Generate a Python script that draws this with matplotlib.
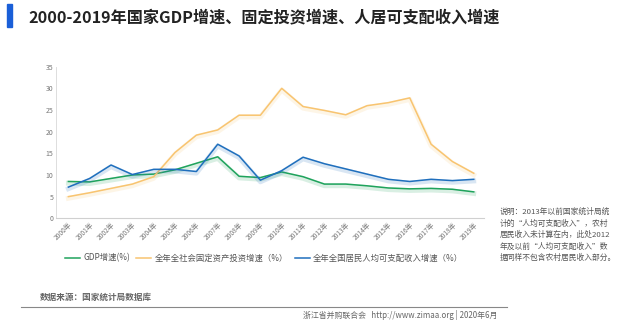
import matplotlib
matplotlib.use("Agg")
import matplotlib.pyplot as plt
import matplotlib.patheffects as pe
from matplotlib.patches import Rectangle
from matplotlib.lines import Line2D

plt.rcParams['font.family'] = ['Noto Sans CJK SC', 'DejaVu Sans']

years = [f"{y}年" for y in range(2000, 2020)]
gdp = [8.5, 8.4, 9.2, 10.0, 10.2, 11.2, 12.7, 14.2, 9.7, 9.4,
       10.7, 9.6, 7.9, 7.9, 7.5, 7.0, 6.8, 6.9, 6.7, 6.1]
invest = [5.0, 5.9, 6.9, 7.9, 9.6, 15.2, 19.2, 20.4, 23.8, 23.8,
          30.0, 25.8, 24.9, 23.9, 26.0, 26.7, 27.8, 17.1, 13.1, 10.4]
income = [7.2, 9.2, 12.3, 10.1, 11.3, 11.3, 10.8, 17.1, 14.4, 8.8,
          11.0, 14.1, 12.6, 11.4, 10.2, 9.0, 8.5, 9.0, 8.7, 9.0]
series_names = ["GDP增速(%)", "全年全社会固定资产投资增速（%）", "全年全国居民人均可支配收入增速（%）"]
colors = ["#1fa35c", "#f8c470", "#1f6fbd"]
yticks = [0, 5, 10, 15, 20, 25, 30, 35]

fig = plt.figure(figsize=(6.4, 3.31), dpi=100)
fig.patch.set_facecolor("white")

# title
fig.patches.append(Rectangle((7 / 640, 1 - 27 / 331), 5 / 640, 23 / 331,
                             transform=fig.transFigure, color="#1a5fd8"))
fig.text(28 / 640, 1 - 17 / 331, "2000-2019年国家GDP增速、固定投资增速、人居可支配收入增速",
         fontsize=11.6, fontweight="bold", color="#222222", va="center", ha="left")

ax = fig.add_axes([56 / 640, 1 - 218.3 / 331, 428 / 640, 151.6 / 331])
x = list(range(len(years)))
for vals, c, name in zip([gdp, invest, income], colors, series_names):
    ax.plot(x, vals, color=c, lw=1.1, label=name,
            path_effects=[pe.SimpleLineShadow(offset=(0, -1.2), shadow_color=c, alpha=0.17, linewidth=3.5),
                          pe.Normal()])

ax.set_xlim(-0.58, 19.48)
ax.set_ylim(0, 35)
ax.set_yticks(yticks)
ax.set_yticklabels([str(v) for v in yticks], fontsize=5, color="#777777")
ax.set_xticks(x)
ax.set_xticklabels(years, fontsize=4.8, color="#777777", rotation=45, ha="right", rotation_mode="anchor")
for s in ["top", "right"]:
    ax.spines[s].set_visible(False)
ax.spines["left"].set_color("#d8d8d8")
ax.spines["bottom"].set_color("#d0d0d0")
ax.spines["left"].set_linewidth(0.6)
ax.spines["bottom"].set_linewidth(0.8)
ax.tick_params(axis="both", length=0, pad=2)

handles = [Line2D([0], [0], color=c, lw=1.1) for c in colors]
fig.legend(handles, series_names, loc="center", bbox_to_anchor=(264 / 640, 1 - 258 / 331),
           ncol=3, frameon=False, fontsize=6.0, handlelength=1.8, handletextpad=0.4,
           columnspacing=0.8, labelcolor="#555555")

note = ("说明：2013年以前国家统计局统\n计的“人均可支配收入”，农村\n居民收入未计算在内，此处2012\n"
        "年及以前“人均可支配收入”数\n据同样不包含农村居民收入部分。")
fig.text(500 / 640, 1 - 208 / 331, note, fontsize=5.6, color="#555555", va="top", ha="left",
         linespacing=1.55)

fig.text(40 / 640, 1 - 297 / 331, "数据来源：国家统计局数据库", fontsize=6.2, fontweight="bold",
         color="#666666", va="center", ha="left")
fig.add_artist(Line2D([21 / 640, 507 / 640], [1 - 307 / 331, 1 - 307 / 331], color="#888888", lw=0.8,
                      transform=fig.transFigure))
fig.text(497 / 640, 1 - 315 / 331, "浙江省并购联合会   http://www.zimaa.org | 2020年6月", fontsize=5.7,
         color="#666666", va="center", ha="right")

fig.savefig("out.png", dpi=100, facecolor="white")
